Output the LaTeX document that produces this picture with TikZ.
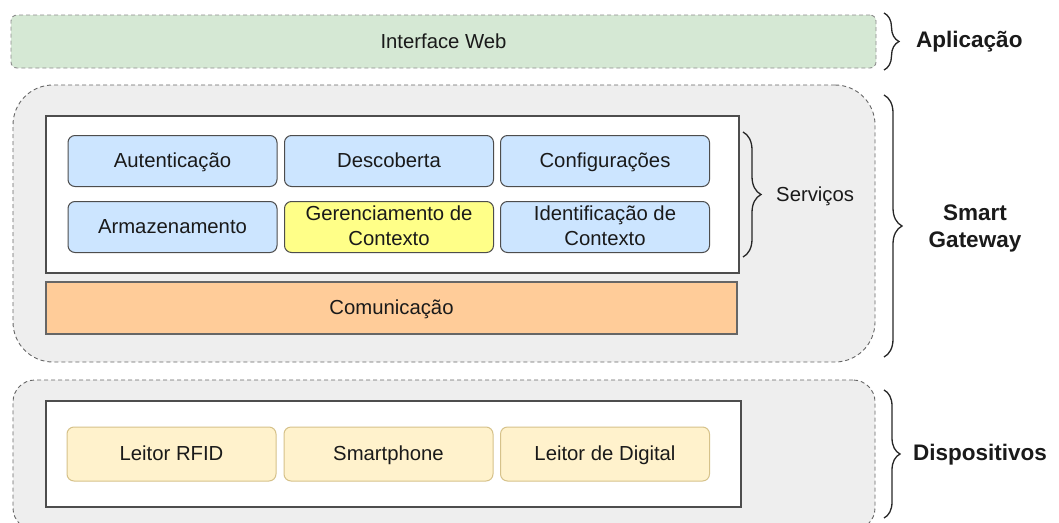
\documentclass[tikz,border=0pt]{standalone}
\usepackage{fontspec}
\setmainfont{Liberation Sans}
\usetikzlibrary{decorations.pathreplacing}
\definecolor{txt}{HTML}{1A1A1A}
\definecolor{boxline}{HTML}{4D4D4D}
\definecolor{svcblue}{HTML}{CCE5FF}
\definecolor{ctxyellow}{HTML}{FFFF88}
\definecolor{devyellow}{HTML}{FFF2CC}
\definecolor{devline}{HTML}{D6C28A}
\definecolor{webgreen}{HTML}{D5E8D4}
\definecolor{layergray}{HTML}{EEEEEE}
\definecolor{commorange}{HTML}{FFCC99}
\newcommand{\lblstrut}{\rule[-3pt]{0pt}{19.3pt}}
\begin{document}
\begin{tikzpicture}[x=1pt,y=-1pt,
  lbl/.style={font=\fontsize{20.3}{24.5}\selectfont, text=txt, align=center,
              execute at begin node=\lblstrut, execute at end node=\lblstrut},
  boldlbl/.style={font=\fontsize{22.5}{27}\selectfont\bfseries, text=txt, align=center, inner sep=0pt},
  layerbox/.style={draw=black!60, dash pattern=on 4pt off 3pt, line width=0.9pt, fill=layergray, inner sep=0pt},
  whitebox/.style={draw=boxline, fill=white, line width=1.8pt, inner sep=0pt},
  cell/.style={lbl, draw=boxline, line width=1pt, rounded corners=7pt, minimum width=209pt, minimum height=51pt, inner sep=0pt},
  svc/.style={cell, fill=svcblue},
  ctx/.style={cell, fill=ctxyellow},
  dev/.style={cell, fill=devyellow, draw=devline, minimum height=54pt},
  bracepath/.style={draw=black!85, line width=1.3pt, decorate, decoration={brace, amplitude=#1}},
]
\useasboundingbox (0,0) rectangle (1059,522);
\clip (0,0) rectangle (1059,522);

% Application layer
\node[lbl, draw=black!45, dash pattern=on 4pt off 3pt, line width=0.9pt, fill=webgreen, rounded corners=6pt,
      minimum width=865pt, minimum height=53pt, inner sep=0pt] (web) at (443.5,41.5) {Interface Web};

% Smart gateway layer
\node[layerbox, rounded corners=40pt, minimum width=862pt, minimum height=277pt] (sg) at (444,223.5) {};
\node[whitebox, minimum width=693pt, minimum height=157pt] (srv) at (392.5,194.5) {};
\node[svc] (aut) at (172.5,161) {Autentica\c{c}\~ao};
\node[svc] (desc) at (389,161) {Descoberta};
\node[svc] (conf) at (605,161) {Configura\c{c}\~oes};
\node[svc] (arm) at (172.5,227) {Armazenamento};
\node[ctx] (ger) at (389,227) {Gerenciamento de\\Contexto};
\node[svc] (ident) at (605,227) {Identifica\c{c}\~ao de\\Contexto};
\node[lbl, draw=black!60, line width=1.2pt, fill=commorange, minimum width=691pt, minimum height=52pt, inner sep=0pt] (com) at (391.5,308) {Comunica\c{c}\~ao};

% Devices layer
\node[layerbox, rounded corners=22pt, minimum width=862pt, minimum height=150pt] (devs) at (444,455) {};
\node[whitebox, minimum width=695pt, minimum height=106pt] (devbox) at (393.5,454) {};
\node[dev] (rfid) at (171.5,454) {Leitor RFID};
\node[dev] (phone) at (388.5,454) {Smartphone};
\node[dev] (digital) at (605,454) {Leitor de Digital};

% Braces
\draw[bracepath=15pt] (884,13) -- (884,70);
\draw[bracepath=18pt] (884,95) -- (884,357);
\draw[bracepath=18pt] (743,132) -- (743,257);
\draw[bracepath=16pt] (884,390) -- (884,518);

% Brace labels
\node[boldlbl, anchor=west] (app) at (916,41.5) {Aplica\c{c}\~ao};
\node[boldlbl] (gw) at (975,228) {Smart\\Gateway};
\node[lbl, anchor=west, inner sep=0pt] (servicos) at (776,195) {Servi\c{c}os};
\node[boldlbl, anchor=west] (disp) at (913,455) {Dispositivos};
\end{tikzpicture}
\end{document}
